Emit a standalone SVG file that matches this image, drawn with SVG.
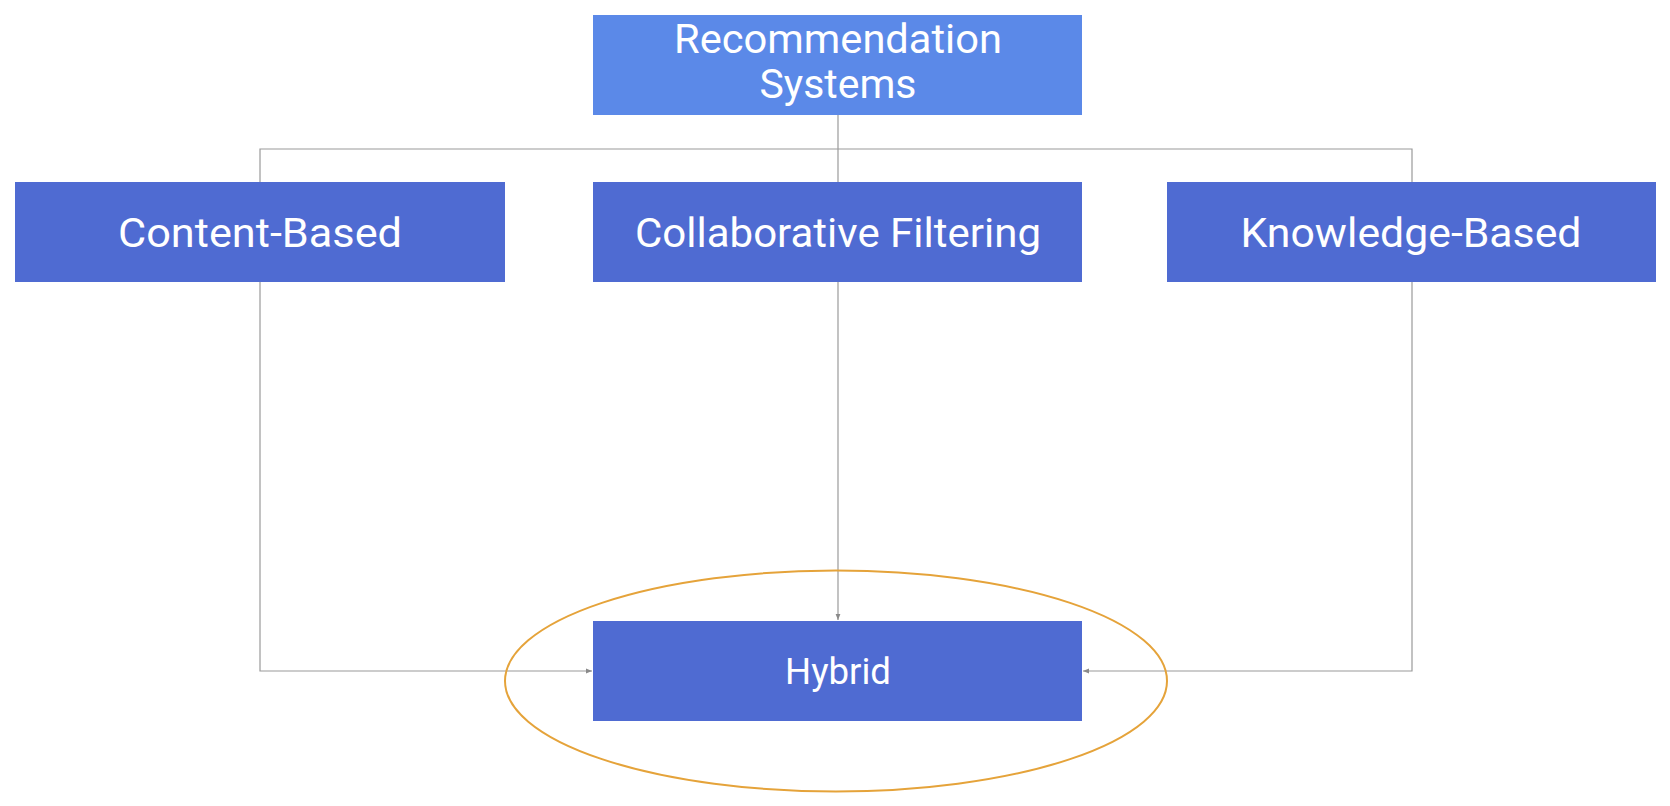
<svg xmlns="http://www.w3.org/2000/svg" width="1670" height="806" viewBox="0 0 1670 806">
<style>
.top{fill:#5b89e8}
.box{fill:#4f6bd2}
.lbl{font-family:Roboto,"Liberation Sans",sans-serif;fill:#ffffff;text-anchor:middle}
.con{fill:none;stroke:#9a9a9a;stroke-width:1.2}
</style>
<defs>
<marker id="arr" viewBox="0 0 10 10" refX="10" refY="5" markerWidth="6" markerHeight="6" markerUnits="userSpaceOnUse" orient="auto">
<path d="M0,1 L10,5 L0,9 z" fill="#8a8a8a"/>
</marker>
</defs>
<rect x="0" y="0" width="1670" height="806" fill="#ffffff"/>
<g id="connectors">
<path class="con" d="M838,115 V182"/>
<path class="con" d="M260,182 V149 H1412 V182"/>
<path class="con" d="M838,282 V620" marker-end="url(#arr)"/>
<path class="con" d="M260,282 V671 H592" marker-end="url(#arr)"/>
<path class="con" d="M1412,282 V671 H1083" marker-end="url(#arr)"/>
</g>
<g id="recommendation-systems">
<rect class="top" x="593" y="15" width="489" height="100"/>
<text class="lbl" x="838" y="53" font-size="40" textLength="328" lengthAdjust="spacingAndGlyphs">Recommendation</text>
<text class="lbl" x="838" y="98" font-size="40" textLength="157" lengthAdjust="spacingAndGlyphs">Systems</text>
</g>
<g id="content-based">
<rect class="box" x="15" y="182" width="490" height="100"/>
<text class="lbl" x="260" y="247" font-size="41" textLength="284" lengthAdjust="spacingAndGlyphs">Content-Based</text>
</g>
<g id="collaborative-filtering">
<rect class="box" x="593" y="182" width="489" height="100"/>
<text class="lbl" x="838" y="247" font-size="41" textLength="406" lengthAdjust="spacingAndGlyphs">Collaborative Filtering</text>
</g>
<g id="knowledge-based">
<rect class="box" x="1167" y="182" width="489" height="100"/>
<text class="lbl" x="1411" y="247" font-size="41" textLength="341" lengthAdjust="spacingAndGlyphs">Knowledge-Based</text>
</g>
<g id="hybrid">
<rect class="box" x="593" y="621" width="489" height="100"/>
<text class="lbl" x="838" y="684" font-size="36" textLength="106" lengthAdjust="spacingAndGlyphs">Hybrid</text>
</g>
<g id="highlight">
<ellipse cx="836" cy="681" rx="331" ry="110.5" fill="none" stroke="#e5a33a" stroke-width="2"/>
</g>
</svg>
